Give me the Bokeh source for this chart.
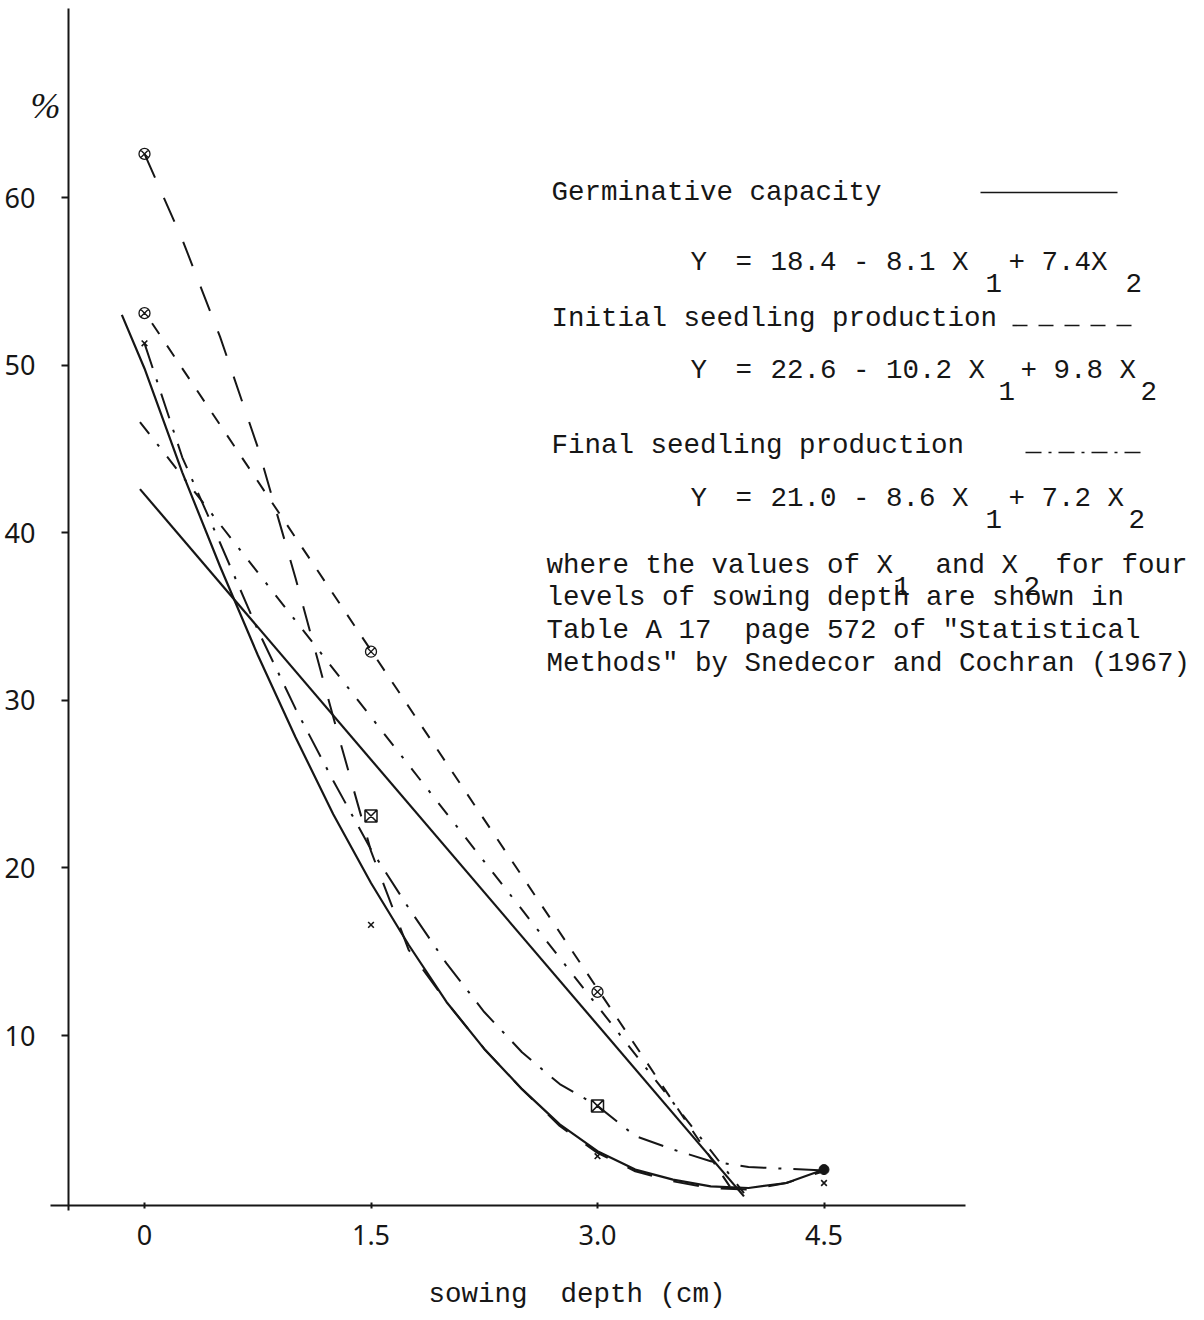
from bokeh.plotting import figure
from bokeh.models import Range1d, FixedTicker
from bokeh.embed import file_html
from bokeh.resources import INLINE
from bokeh.core.properties import value

# ---------------- data ----------------
depth_levels = [0, 1.5, 3.0, 4.5]
depth_tick_labels = ["0", "1.5", "3.0", "4.5"]
pct_ticks = [10, 20, 30, 40, 50, 60]

# fitted quadratic curves (hand-drawn on the original)
germ_curve_depth = [-0.15, 0, 0.25, 0.5, 0.75, 1.0, 1.25, 1.5, 1.75, 2.0, 2.25, 2.5, 2.75, 3.0, 3.25, 3.5, 3.75, 4.0, 4.25, 4.5]
germ_curve_pct = [53.0, 49.8, 43.6, 38.0, 32.7, 27.8, 23.2, 19.1, 15.4, 12.0, 9.2, 6.8, 4.7, 3.1, 2.0, 1.4, 1.0, 0.9, 1.2, 2.0]

initial_curve_depth = [0, 0.25, 0.5, 0.75, 1.0, 1.25, 1.5, 1.75, 2.0, 2.25, 2.5, 2.75, 3.0, 3.25, 3.5, 3.75, 4.0, 4.25, 4.5]
initial_curve_pct = [62.6, 57.5, 51.7, 45.1, 37.3, 29.0, 21.0, 15.1, 12.0, 9.2, 6.8, 4.6, 3.0, 1.9, 1.3, 0.9, 0.8, 1.2, 1.9]

final_curve_depth = [0, 0.25, 0.5, 0.75, 1.0, 1.25, 1.5, 1.75, 2.0, 2.25, 2.5, 2.75, 3.0, 3.25, 3.5, 3.75, 4.0, 4.25, 4.5]
final_curve_pct = [51.3, 44.5, 39.4, 34.2, 29.5, 25.2, 21.1, 17.6, 14.3, 11.4, 9.0, 7.1, 5.8, 4.0, 3.2, 2.5, 2.15, 2.05, 1.95]

# fitted straight lines
germ_line_depth = [-0.03, 3.97]
germ_line_pct = [42.6, 0.4]
initial_line_depth = [0.05, 3.92]
initial_line_pct = [52.5, 0.4]
final_line_depth = [-0.03, 3.97]
final_line_pct = [46.6, 0.6]

# plotted observations
ringed_depth = [0, 0, 1.5, 3.0]
ringed_pct = [62.6, 53.1, 32.9, 12.6]
boxed_depth = [1.5, 3.0]
boxed_pct = [23.1, 5.8]
cross_depth = [0, 1.5, 3.0, 4.5]
cross_pct = [51.3, 16.6, 2.8, 1.2]
blob_depth = [4.5]
blob_pct = [2.0]

# ---------------- layout ----------------
INK = "#161616"
W, H = 1200, 1318
X0_PX, X_SCALE = 144.0, 151.0      # canvas px of depth 0, px per cm
Y0_PX, Y_SCALE = 1202.6, 16.76     # canvas px of 0 %, px per %
MONO = "Liberation Mono"
MONO_SIZE = "27.5px"
SUB_DROP = 20


def dx(px):
    return (px - X0_PX) / X_SCALE


def dy(py):
    return (Y0_PX - py) / Y_SCALE


p = figure(width=W, height=H, output_backend="svg", toolbar_location=None,
           x_range=Range1d(dx(0), dx(W)), y_range=Range1d(dy(H), dy(0)),
           min_border_left=0, min_border_right=0, min_border_top=0, min_border_bottom=0)
p.outline_line_color = None
p.grid.visible = False
p.background_fill_color = "white"
p.border_fill_color = "white"

# axes, drawn at fixed positions inside the canvas
xa = p.xaxis[0]
xa.ticker = FixedTicker(ticks=depth_levels)
xa.major_label_overrides = dict(zip(depth_levels, depth_tick_labels))
xa.fixed_location = dy(1205)
xa.bounds = (dx(50), dx(965))
ya = p.yaxis[0]
ya.ticker = FixedTicker(ticks=pct_ticks)
ya.fixed_location = dx(68)
ya.bounds = (dy(1210), dy(8))
for ax in (xa, ya):
    ax.axis_line_color = INK
    ax.axis_line_width = 2
    ax.major_tick_line_color = INK
    ax.major_tick_line_width = 2
    ax.minor_tick_line_color = None
    ax.major_label_text_font = "Noto Sans"
    ax.major_label_text_font_size = "27px"
    ax.major_label_text_color = INK
xa.major_tick_in = 3
xa.major_tick_out = 3
xa.major_label_standoff = 16
ya.major_tick_in = 0
ya.major_tick_out = 7
ya.major_label_standoff = 26

# curves
p.line(germ_curve_depth, germ_curve_pct, line_color=INK, line_width=2.2)
p.line(initial_curve_depth, initial_curve_pct, line_color=INK, line_width=2, line_dash="26 22")
p.line(final_curve_depth, final_curve_pct, line_color=INK, line_width=2, line_dash="26 12 3 12")
p.line(germ_line_depth, germ_line_pct, line_color=INK, line_width=2.2)
p.line(initial_line_depth, initial_line_pct, line_color=INK, line_width=2, line_dash="13 14")
p.line(final_line_depth, final_line_pct, line_color=INK, line_width=2, line_dash="15 13 3 13")

# points
p.scatter(ringed_depth, ringed_pct, marker="circle_x", size=11, fill_color=None, line_color=INK, line_width=1.3)
p.scatter(boxed_depth, boxed_pct, marker="square_x", size=12, fill_color=None, line_color=INK, line_width=1.5)
p.scatter(cross_depth, cross_pct, marker="x", size=8, line_color=INK, line_width=1.6)
p.scatter(blob_depth, blob_pct, marker="circle", size=10, fill_color=INK, line_color=INK)

# legend / note text (canvas-pixel layout: x, y-centre, text)
text_items = [
    (551, 192, "Germinative capacity"),
    (690, 262, "Y"), (735, 262, "="), (770, 262, "18.4 - 8.1 X"), (985, 262 + SUB_DROP, "1"),
    (1008, 262, "+ 7.4X"), (1125, 262 + SUB_DROP, "2"),
    (551, 318, "Initial seedling production"),
    (690, 370, "Y"), (735, 370, "="), (770, 370, "22.6 - 10.2 X"), (998, 370 + SUB_DROP, "1"),
    (1020, 370, "+ 9.8 X"), (1140, 370 + SUB_DROP, "2"),
    (551, 445, "Final seedling production"),
    (690, 498, "Y"), (735, 498, "="), (770, 498, "21.0 - 8.6 X"), (985, 498 + SUB_DROP, "1"),
    (1008, 498, "+ 7.2 X"), (1128, 498 + SUB_DROP, "2"),
    (546, 565, "where the values of X"), (893, 565 + SUB_DROP, "1"),
    (935, 565, "and X"), (1023, 565 + SUB_DROP, "2"), (1055, 565, "for four"),
    (546, 597, "levels of sowing depth are shown in"),
    (546, 630, "Table A 17"), (744, 630, "page 572 of \"Statistical"),
    (546, 663, "Methods\" by Snedecor and Cochran (1967)"),
    (428, 1294, "sowing"), (560, 1294, "depth (cm)"),
]
p.text(x=[dx(t[0]) for t in text_items], y=[dy(t[1]) for t in text_items],
       text=[t[2] for t in text_items], text_font=value(MONO), text_font_size=MONO_SIZE,
       text_align="left", text_baseline="middle", text_color=INK)

# y-axis unit sign
p.text(x=[dx(45)], y=[dy(105)], text=["%"], text_font=value("Liberation Serif"), text_font_style="italic",
       text_font_size="36px", text_align="center", text_baseline="middle", text_color=INK)

# legend sample lines
p.line([dx(980), dx(1117)], [dy(192), dy(192)], line_color=INK, line_width=1.6)
p.line([dx(1012), dx(1138)], [dy(325), dy(325)], line_color=INK, line_width=1.6, line_dash="15 11")
p.line([dx(1025), dx(1146)], [dy(452), dy(452)], line_color=INK, line_width=1.6, line_dash="16 7 3 7")

open("out.html", "w").write(file_html(p, INLINE))
